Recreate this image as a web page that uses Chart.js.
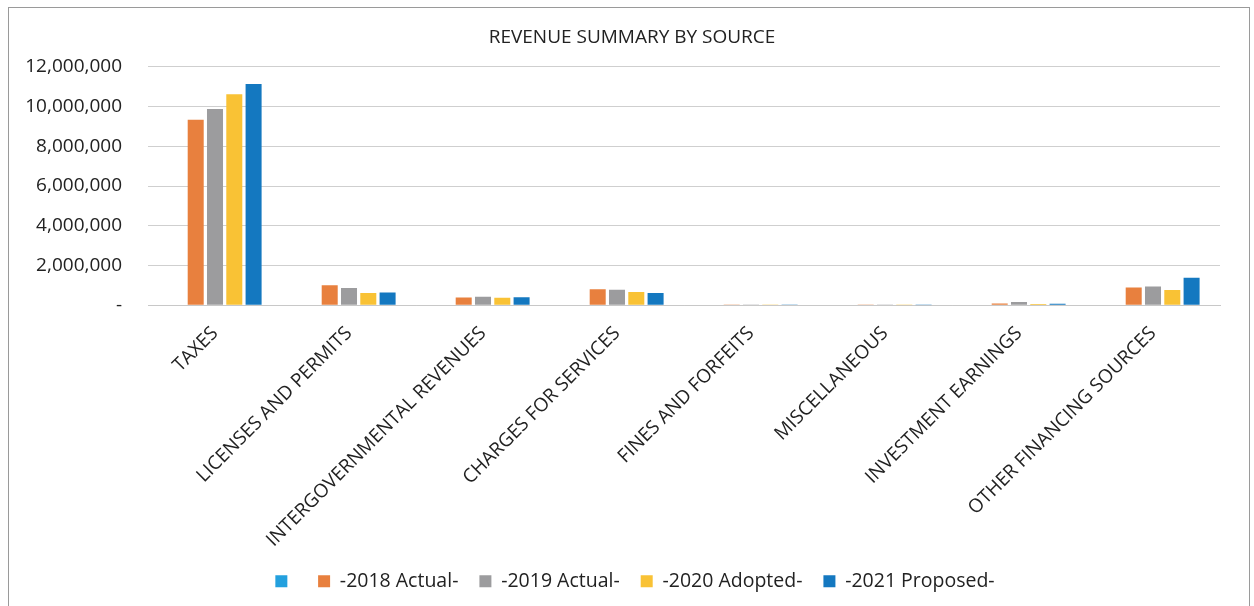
<!DOCTYPE html>
<html>
<head>
<meta charset="utf-8">
<title>Revenue Summary by Source</title>
<script src="https://cdn.jsdelivr.net/npm/chart.js@4.4.1/dist/chart.umd.min.js"></script>
<style>
  html, body { margin: 0; padding: 0; background: #fff; }
  #wrap { position: relative; width: 1254px; height: 606px; }
</style>
</head>
<body>
<div id="wrap"><canvas id="revenueChart" width="1254" height="606"></canvas></div>
<script>
const categories = [
  "TAXES",
  "LICENSES AND PERMITS",
  "INTERGOVERNMENTAL REVENUES",
  "CHARGES FOR SERVICES",
  "FINES AND FORFEITS",
  "MISCELLANEOUS",
  "INVESTMENT EARNINGS",
  "OTHER FINANCING SOURCES",
];

// empty series that Excel kept in the legend (no values)
const blankSeries = [null, null, null, null, null, null, null, null];
const actual2018 = [9340000, 1010000, 390000, 800000, 15000, 5000, 90000, 890000];
const actual2019 = [9880000, 870000, 420000, 780000, 12000, 5000, 160000, 940000];
const adopted2020 = [10620000, 620000, 370000, 660000, 10000, 4000, 60000, 760000];
const proposed2021 = [11140000, 640000, 400000, 620000, 10000, 4000, 75000, 1380000];

const yTicks = [0, 2000000, 4000000, 6000000, 8000000, 10000000, 12000000];

const FONT = "'Open Sans', 'Liberation Sans', sans-serif";

// grey frame round the whole chart, like the pasted Excel object
const framePlugin = {
  id: "frame",
  afterDraw(chart) {
    const ctx = chart.ctx;
    ctx.save();
    ctx.strokeStyle = "#9a9a9a";
    ctx.lineWidth = 1;
    ctx.strokeRect(8.5, 7.5, 1241, 620);
    ctx.restore();
  },
};

// nudge title and legend, Excel centres them on the whole frame
const nudgePlugin = {
  id: "nudge",
  afterInit(chart) {
    const shift = (box, dx, dy) => {
      if (!box) return;
      const draw = box.draw.bind(box);
      box.draw = (...args) => {
        chart.ctx.save();
        chart.ctx.translate(dx, dy);
        draw(...args);
        chart.ctx.restore();
      };
    };
    shift(chart.titleBlock, 9, 0);
    shift(chart.legend, 12, -18);
  },
};

const chartCanvas = document.getElementById("revenueChart");

new Chart(chartCanvas, {
  type: "bar",
  data: {
    labels: categories,
    datasets: [
      { label: "", data: blankSeries, backgroundColor: "#23a0de" },
      { label: "-2018 Actual-", data: actual2018, backgroundColor: "#e8803e" },
      { label: "-2019 Actual-", data: actual2019, backgroundColor: "#9c9c9e" },
      { label: "-2020 Adopted-", data: adopted2020, backgroundColor: "#f9c235" },
      { label: "-2021 Proposed-", data: proposed2021, backgroundColor: "#1478c0" },
    ],
  },
  options: {
    responsive: false,
    animation: false,
    devicePixelRatio: 1,
    categoryPercentage: 0.72,
    barPercentage: 0.83,
    layout: {
      padding: { left: 26, right: 34, top: 0, bottom: -13 },
    },
    plugins: {
      title: {
        display: true,
        text: "REVENUE SUMMARY BY SOURCE",
        color: "#222",
        font: { family: FONT, size: 19, weight: "normal" },
        padding: { top: 26, bottom: 18 },
      },
      legend: {
        display: true,
        position: "bottom",
        labels: {
          color: "#222",
          boxWidth: 12,
          boxHeight: 12,
          padding: 21,
          font: { family: FONT, size: 19.5 },
        },
      },
      tooltip: { enabled: false },
    },
    scales: {
      x: {
        grid: { display: false, drawTicks: false },
        border: { color: "#c8c8c8" },
        ticks: {
          color: "#222",
          minRotation: 45,
          maxRotation: 45,
          padding: 17,
          font: { family: FONT, size: 19 },
        },
      },
      y: {
        min: 0,
        max: 12000000,
        afterFit(scale) {
          scale.width = 122;
        },
        afterBuildTicks(scale) {
          scale.ticks = yTicks.map((v) => ({ value: v }));
        },
        grid: { color: "#cfcfcf", drawTicks: false },
        border: { display: false },
        ticks: {
          color: "#222",
          padding: 26,
          font: { family: FONT, size: 19 },
          callback: (v) => (v === 0 ? "-" : v.toLocaleString("en-US")),
        },
      },
    },
  },
  plugins: [framePlugin, nudgePlugin],
});
</script>
</body>
</html>
